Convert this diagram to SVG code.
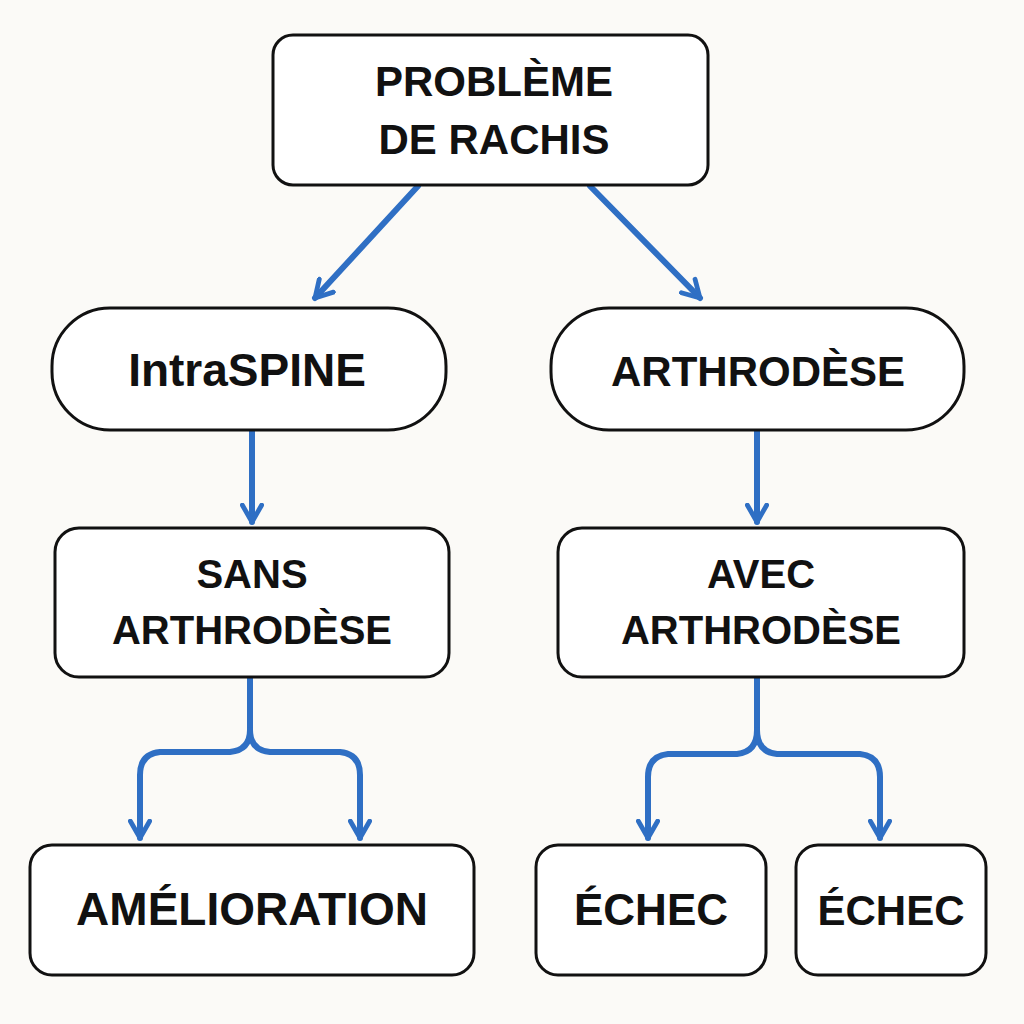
<svg xmlns="http://www.w3.org/2000/svg" width="1024" height="1024" viewBox="0 0 1024 1024">
<style>
.b{fill:#fff;stroke:#111;stroke-width:3}
.t{font-family:"Liberation Sans",Arial,sans-serif;font-weight:bold;fill:#111;text-anchor:middle}
.c{fill:none;stroke:#2f6fc4;stroke-width:6;stroke-linecap:round;stroke-linejoin:round}
</style>
<defs><marker id="a" viewBox="0 0 10 10" refX="8" refY="5" markerWidth="4" markerHeight="4" orient="auto" markerUnits="strokeWidth"><polyline points="1,1 8,5 1,9" fill="none" stroke="#2f6fc4" stroke-width="2" stroke-linecap="round" stroke-linejoin="round"/></marker></defs>
<rect width="1024" height="1024" fill="#fbfaf7"/>
<g id="connectors">
<path class="c" d="M418,186 L315,298" marker-end="url(#a)"/>
<path class="c" d="M590,186 L700,298" marker-end="url(#a)"/>
<path class="c" d="M252,431 L252,522" marker-end="url(#a)"/>
<path class="c" d="M757,431 L757,522" marker-end="url(#a)"/>
<path class="c" d="M250,678 L250,730 Q250,750 230,752 L160,752 Q140,754 140,775 L140,838" marker-end="url(#a)"/>
<path class="c" d="M250,730 Q250,750 270,752 L340,752 Q360,754 360,775 L360,838" marker-end="url(#a)"/>
<path class="c" d="M757,678 L757,730 Q757,752 737,754 L668,754 Q648,756 648,777 L648,838" marker-end="url(#a)"/>
<path class="c" d="M757,730 Q757,752 777,754 L860,754 Q880,756 880,777 L880,838" marker-end="url(#a)"/>
</g>
<g id="n1"><rect class="b" x="273" y="35" width="435" height="150" rx="20"/><text class="t" x="494" y="96" font-size="42">PROBLÈME</text><text class="t" x="494" y="154" font-size="42">DE RACHIS</text></g>
<g id="n2"><rect class="b" x="52" y="308" width="394" height="122" rx="58"/><text class="t" x="247" y="386" font-size="46">IntraSPINE</text></g>
<g id="n3"><rect class="b" x="551" y="308" width="413" height="122" rx="58"/><text class="t" x="758" y="386" font-size="42">ARTHRODÈSE</text></g>
<g id="n4"><rect class="b" x="55" y="528" width="394" height="149" rx="24"/><text class="t" x="252" y="588" font-size="40">SANS</text><text class="t" x="252" y="644" font-size="40">ARTHRODÈSE</text></g>
<g id="n5"><rect class="b" x="558" y="528" width="406" height="149" rx="24"/><text class="t" x="761" y="588" font-size="40">AVEC</text><text class="t" x="761" y="644" font-size="40">ARTHRODÈSE</text></g>
<g id="n6"><rect class="b" x="30" y="845" width="444" height="130" rx="22"/><text class="t" x="252" y="925" font-size="46">AMÉLIORATION</text></g>
<g id="n7"><rect class="b" x="536" y="845" width="230" height="130" rx="22"/><text class="t" x="651" y="925" font-size="44">ÉCHEC</text></g>
<g id="n8"><rect class="b" x="796" y="845" width="190" height="130" rx="22"/><text class="t" x="891" y="925" font-size="42">ÉCHEC</text></g>
</svg>
